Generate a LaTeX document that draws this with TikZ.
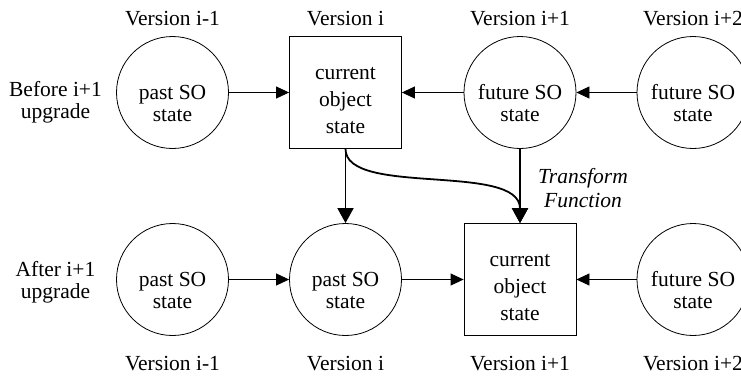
\documentclass[tikz,border=0pt]{standalone}
\usepackage{fontspec}
\setmainfont{Liberation Serif}
\usetikzlibrary{arrows.meta,calc}
\begin{document}
\begin{tikzpicture}[x=1pt,y=1pt,
  every node/.style={font=\fontsize{21.5}{22}\selectfont, inner sep=0pt},
  circ/.style={draw, circle, minimum size=112pt, line width=0.8pt},
  sqbox/.style={draw, rectangle, minimum size=112pt, line width=0.8pt},
  ctxt/.style={align=center, anchor=base, font=\fontsize{21.5}{21.5}\selectfont},
  stxt/.style={align=center, anchor=base, font=\fontsize{21.5}{27}\selectfont},
  ltxt/.style={align=center, anchor=base, font=\fontsize{21.5}{22}\selectfont},
  vlabel/.style={anchor=base},
  harrow/.style={-{Triangle[length=13pt,width=12pt]}, line width=0.8pt},
  varrow/.style={-{Triangle[length=15pt,width=16pt]}, line width=1.8pt},
]
\clip (0,0) rectangle (741,376);
% top row
\node[circ] (a1) at (172.5,283.5) {};
\node[sqbox] (a2) at (345.5,283.5) {};
\node[circ] (a3) at (520,283.5) {};
\node[circ] (a4) at (693,283.5) {};
% bottom row
\node[circ] (b1) at (172.5,96.5) {};
\node[circ] (b2) at (345.5,96.5) {};
\node[sqbox] (b3) at (520,96.5) {};
\node[circ] (b4) at (693,96.5) {};
% texts in shapes (anchor = baseline of last line)
\node[ctxt] (ta1) at ([yshift=-28.5pt]a1.center) {past SO\\state};
\node[stxt] (ta2) at ([yshift=-40.5pt]a2.center) {current\\object\\state};
\node[ctxt] (ta3) at ([yshift=-28.5pt]a3.center) {future SO\\state};
\node[ctxt] (ta4) at ([yshift=-28.5pt]a4.center) {future SO\\state};
\node[ctxt] (tb1) at ([yshift=-28.5pt]b1.center) {past SO\\state};
\node[ctxt] (tb2) at ([yshift=-28.5pt]b2.center) {past SO\\state};
\node[stxt] (tb3) at ([yshift=-40.5pt]b3.center) {current\\object\\state};
\node[ctxt] (tb4) at ([yshift=-28.5pt]b4.center) {future SO\\state};
% row labels
\node[ltxt] (l1) at (55.5,258) {Before i+1\\upgrade};
\node[ltxt] (l2) at (55.5,78) {After i+1\\upgrade};
% version labels
\node[vlabel] (v1) at (172.5,351) {Version i-1};
\node[vlabel] (v2) at (345.5,351) {Version i};
\node[vlabel] (v3) at (520,351) {Version i+1};
\node[vlabel] (v4) at (693,351) {Version i+2};
\node[vlabel] (w1) at (172.5,6) {Version i-1};
\node[vlabel] (w2) at (345.5,6) {Version i};
\node[vlabel] (w3) at (520,6) {Version i+1};
\node[vlabel] (w4) at (693,6) {Version i+2};
% transform label
\node[ltxt, font=\itshape\fontsize{21.5}{24}\selectfont] (tf) at (583,169) {Transform\\Function};
% horizontal arrows
\draw[harrow] (a1.east) -- (a2.west);
\draw[harrow] (a3.west) -- (a2.east);
\draw[harrow] (a4.west) -- (a3.east);
\draw[harrow] (b1.east) -- (b2.west);
\draw[harrow] (b2.east) -- (b3.west);
\draw[harrow] (b4.west) -- (b3.east);
% vertical arrows
\draw[varrow] (a2.south) -- (b2.north);
\draw[varrow] (a3.south) -- (b3.north);
\draw[varrow] (a2.south) .. controls ($(a2.south)+(0,-48)$) and ($(b3.north)+(0,61)$) .. (b3.north);
\end{tikzpicture}
\end{document}
